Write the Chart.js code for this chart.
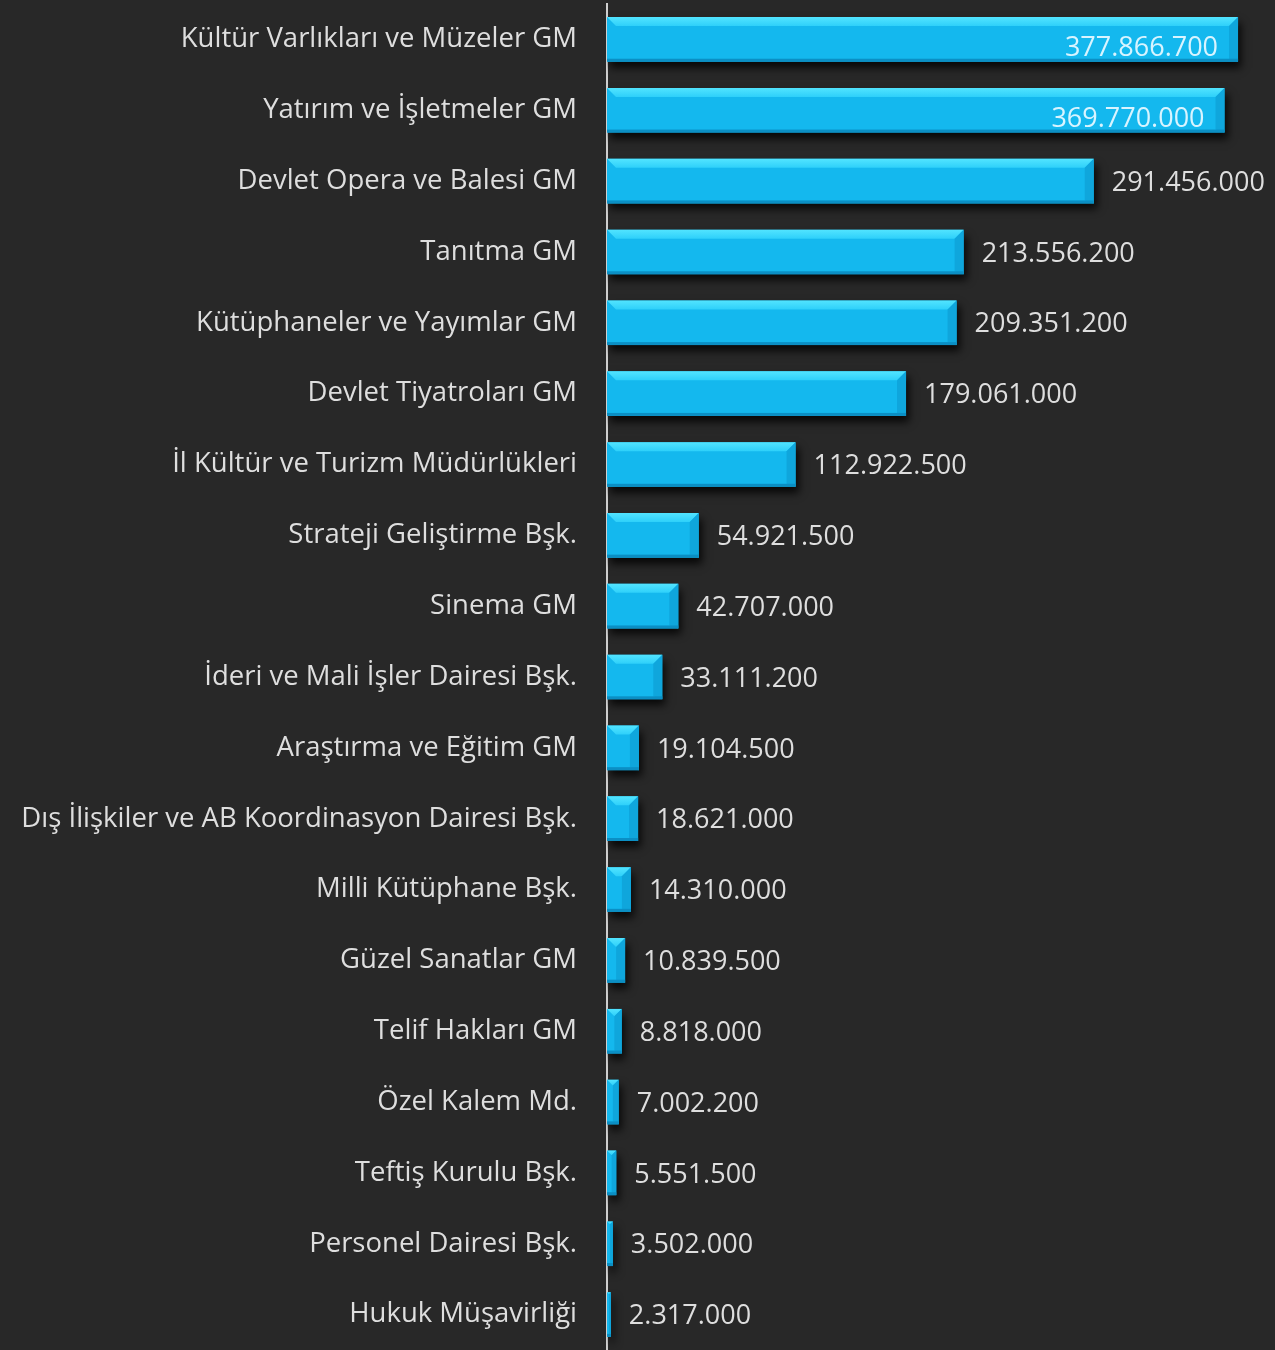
<!DOCTYPE html>
<html>
<head>
<meta charset="utf-8">
<script src="https://cdn.jsdelivr.net/npm/chart.js@4.4.1/dist/chart.umd.min.js"></script>
<style>
  html, body { margin: 0; padding: 0; background: #282828; }
  #wrap { width: 1275px; height: 1350px; }
</style>
</head>
<body>
<div id="wrap"><canvas id="budgetChart" width="1275" height="1350"></canvas></div>
<script>
// categories and values (TL)
const units = [
    'Kültür Varlıkları ve Müzeler GM',
    'Yatırım ve İşletmeler GM',
    'Devlet Opera ve Balesi GM',
    'Tanıtma GM',
    'Kütüphaneler ve Yayımlar GM',
    'Devlet Tiyatroları GM',
    'İl Kültür ve Turizm Müdürlükleri',
    'Strateji Geliştirme Bşk.',
    'Sinema GM',
    'İderi ve Mali İşler Dairesi Bşk.',
    'Araştırma ve Eğitim GM',
    'Dış İlişkiler ve AB Koordinasyon Dairesi Bşk.',
    'Milli Kütüphane Bşk.',
    'Güzel Sanatlar GM',
    'Telif Hakları GM',
    'Özel Kalem Md.',
    'Teftiş Kurulu Bşk.',
    'Personel Dairesi Bşk.',
    'Hukuk Müşavirliği'
];
const budget = [
    377866700, 369770000, 291456000, 213556200, 209351200, 179061000,
    112922500, 54921500, 42707000, 33111200, 19104500, 18621000,
    14310000, 10839500, 8818000, 7002200, 5551500, 3502000, 2317000
];
const xMax = 400000000;
// values drawn inside the bar instead of after it
const insideCount = 2;

const textColor = '#dedede';
const valueFont = '27px "Open Sans", sans-serif';

// 1.234.567 style
function fmt(v) {
    return String(v).replace(/\B(?=(\d{3})+(?!\d))/g, '.');
}

// drop shadow + bevelled top face on bars, value labels
const barLook = {
    id: 'barLook',
    beforeDatasetDraw(chart) {
        const ctx = chart.ctx;
        ctx.save();
        ctx.shadowColor = 'rgba(0,0,0,0.8)';
        ctx.shadowOffsetY = 6;
        ctx.shadowOffsetX = 3;
        ctx.shadowBlur = 8;
    },
    afterDatasetDraw(chart) {
        const ctx = chart.ctx;
        ctx.restore();
        const meta = chart.getDatasetMeta(0);
        meta.data.forEach((bar, i) => {
            const top = bar.y - bar.height / 2;
            const h = bar.height;
            const left = bar.base, right = bar.x;
            const w = right - left;
            if (w <= 0) return;
            const bev = Math.min(9, w / 2);
            ctx.save();
            // top face
            const g = ctx.createLinearGradient(0, top, 0, top + bev);
            g.addColorStop(0, '#52e4ff');
            g.addColorStop(1, '#2ed0fa');
            ctx.fillStyle = g;
            ctx.beginPath();
            ctx.moveTo(left, top);
            ctx.lineTo(right, top);
            ctx.lineTo(right - bev, top + bev);
            ctx.lineTo(left + bev, top + bev);
            ctx.closePath();
            ctx.fill();
            // right end face
            ctx.fillStyle = '#0fa6dc';
            ctx.beginPath();
            ctx.moveTo(right, top);
            ctx.lineTo(right, top + h);
            ctx.lineTo(right - bev, top + h - 3);
            ctx.lineTo(right - bev, top + bev);
            ctx.closePath();
            ctx.fill();
            // lower edge
            ctx.fillStyle = '#0b8fc4';
            ctx.fillRect(left, top + h - 3, w, 3);
            ctx.restore();

            // value label
            ctx.save();
            ctx.font = valueFont;
            ctx.textBaseline = 'middle';
            if (i < insideCount) {
                ctx.textAlign = 'right';
                ctx.fillStyle = '#d8f4ff';
                ctx.fillText(fmt(budget[i]), right - 20, bar.y + 9);
            } else {
                ctx.textAlign = 'left';
                ctx.fillStyle = textColor;
                ctx.fillText(fmt(budget[i]), right + 18, bar.y + 2);
            }
            ctx.restore();
        });
    }
};

const config = {
    type: 'bar',
    data: {
        labels: units,
        datasets: [{
            data: budget,
            backgroundColor: '#14b8ee',
            borderWidth: 0,
            barPercentage: 0.9,
            categoryPercentage: 0.7
        }]
    },
    options: {
        indexAxis: 'y',
        responsive: false,
        animation: false,
        devicePixelRatio: 1,
        layout: { padding: { top: 4, left: 10, right: 0, bottom: 0 } },
        plugins: {
            legend: { display: false },
            tooltip: { enabled: false }
        },
        scales: {
            x: {
                display: false,
                min: 0,
                max: xMax
            },
            y: {
                afterFit(scale) {
                    scale.width = 597;
                    scale.paddingTop = 0;
                    scale.paddingBottom = 0;
                },
                grid: { display: false, drawTicks: false },
                border: { display: true, color: '#cfcfcf', width: 2 },
                ticks: {
                    color: textColor,
                    padding: 30,
                    autoSkip: false,
                    font: { family: '"Open Sans", sans-serif', size: 27.5 }
                }
            }
        }
    },
    plugins: [barLook]
};

window.onload = () => {
    const ctx = document.getElementById('budgetChart').getContext('2d');
    new Chart(ctx, config);
};
</script>
</body>
</html>
